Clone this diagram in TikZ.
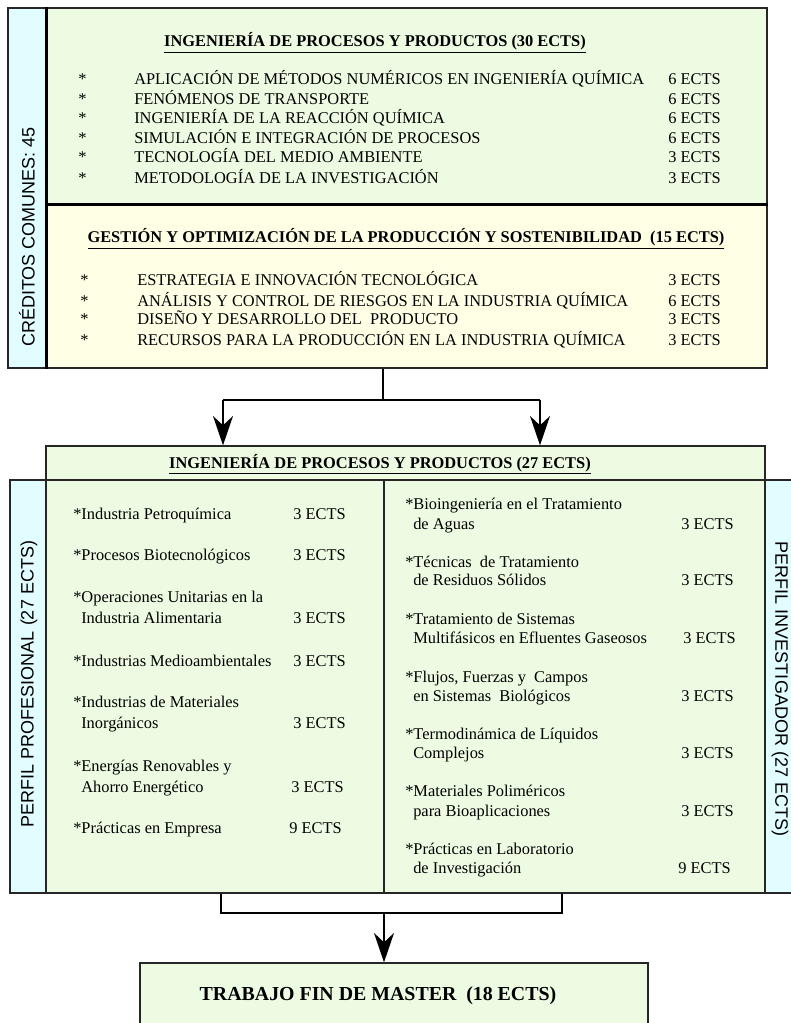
\documentclass[tikz,border=0pt]{standalone}
\usepackage{fontspec}
\setmainfont{Liberation Serif}
\setsansfont{Liberation Sans}
\usepackage{tikz}
\usetikzlibrary{arrows.meta,fit,positioning}

\definecolor{verde}{RGB}{236,251,226}
\definecolor{crema}{RGB}{255,255,230}
\definecolor{celeste}{RGB}{226,253,255}

\tikzset{
  caja/.style={draw=black!85, line width=1pt, inner sep=0pt},
  item/.style={anchor=base west, inner sep=0pt, font=\fontsize{12.3}{14}\selectfont},
  titulo/.style={anchor=base, inner sep=0pt, font=\fontsize{12.3}{14}\selectfont\bfseries},
  lateral/.style={inner sep=0pt, font=\sffamily\fontsize{13.5}{16}\selectfont}
}

\begin{document}
\begin{tikzpicture}[x=0.75pt,y=-0.75pt,>={Stealth[length=22pt,width=15pt,inset=7pt]}]

  \useasboundingbox (0,0) rectangle (791,1023);

  % bloque comun
  \node[caja, fill=celeste, fit={(8,8) (47,368)}] (comunes) {};
  \node[caja, fill=verde, fit={(47,8) (767,204)}] (ipp30) {};
  \node[caja, fill=crema, fit={(47,204) (767,368)}] (gop) {};
  \draw[line width=2.2pt] (ipp30.north west) -- (gop.south west);
  \draw[line width=2pt] (ipp30.south west) -- (ipp30.south east);

  \node[lateral, rotate=90] (lcom) at (27,237) {CRÉDITOS COMUNES: 45};

  \node[titulo] (tipp30) at (375,47) {\underline{INGENIERÍA DE PROCESOS Y PRODUCTOS (30 ECTS)}};
  \node[item] (a1) at (78,85) {*};
  \node[item] (t1) at (134,85) {APLICACIÓN DE MÉTODOS NUMÉRICOS EN INGENIERÍA QUÍMICA};
  \node[item] (e1) at (668,85) {6 ECTS};
  \node[item] (a2) at (78,105) {*};
  \node[item] (t2) at (134,105) {FENÓMENOS DE TRANSPORTE};
  \node[item] (e2) at (668,105) {6 ECTS};
  \node[item] (a3) at (78,124) {*};
  \node[item] (t3) at (134,124) {INGENIERÍA DE LA REACCIÓN QUÍMICA};
  \node[item] (e3) at (668,124) {6 ECTS};
  \node[item] (a4) at (78,144) {*};
  \node[item] (t4) at (134,144) {SIMULACIÓN E INTEGRACIÓN DE PROCESOS};
  \node[item] (e4) at (668,144) {6 ECTS};
  \node[item] (a5) at (78,163) {*};
  \node[item] (t5) at (134,163) {TECNOLOGÍA DEL MEDIO AMBIENTE};
  \node[item] (e5) at (668,163) {3 ECTS};
  \node[item] (a6) at (78,184) {*};
  \node[item] (t6) at (134,184) {METODOLOGÍA DE LA INVESTIGACIÓN};
  \node[item] (e6) at (668,184) {3 ECTS};

  \node[titulo] (tgop) at (406,243) {\underline{GESTIÓN Y OPTIMIZACIÓN DE LA PRODUCCIÓN Y SOSTENIBILIDAD\ \ (15 ECTS)}};
  \node[item] (b1) at (80,286) {*};
  \node[item] (g1) at (137,286) {ESTRATEGIA E INNOVACIÓN TECNOLÓGICA};
  \node[item] (f1) at (668,286) {3 ECTS};
  \node[item] (b2) at (80,306) {*};
  \node[item] (g2) at (137,306) {ANÁLISIS Y CONTROL DE RIESGOS EN LA INDUSTRIA QUÍMICA};
  \node[item] (f2) at (668,306) {6 ECTS};
  \node[item] (b3) at (80,325) {*};
  \node[item] (g3) at (137,325) {DISEÑO Y DESARROLLO DEL\ \ PRODUCTO};
  \node[item] (f3) at (668,325) {3 ECTS};
  \node[item] (b4) at (80,345) {*};
  \node[item] (g4) at (137,345) {RECURSOS PARA LA PRODUCCIÓN EN LA INDUSTRIA QUÍMICA};
  \node[item] (f4) at (668,345) {3 ECTS};

  % perfiles
  \node[caja, fill=verde, fit={(46,446) (765,480)}] (hdr) {};
  \node[caja, fill=celeste, fit={(10,480) (46,893)}] (pprof) {};
  \node[caja, fill=verde, fit={(46,480) (384,893)}] (izq) {};
  \node[caja, fill=verde, fit={(384,480) (765,893)}] (der) {};
  \node[caja, fill=celeste, fit={(765,480) (795,893)}] (pinv) {};

  \node[titulo] (thdr) at (380,468) {\underline{INGENIERÍA DE PROCESOS Y PRODUCTOS (27 ECTS)}};
  \node[lateral, rotate=90] (lprof) at (29,684) {PERFIL PROFESIONAL (27 ECTS)};
  \node[lateral, rotate=-90] (linv) at (780,689) {PERFIL INVESTIGADOR (27 ECTS)};

  \node[item] (p1) at (73,519) {*Industria Petroquímica};
  \node[item] (q1) at (293,519) {3 ECTS};
  \node[item] (p2) at (73,560) {*Procesos Biotecnológicos};
  \node[item] (q2) at (293,560) {3 ECTS};
  \node[item] (p3) at (73,602) {*Operaciones Unitarias en la};
  \node[item] (p3b) at (81,623) {Industria Alimentaria};
  \node[item] (q3) at (293,623) {3 ECTS};
  \node[item] (p4) at (73,666) {*Industrias Medioambientales};
  \node[item] (q4) at (293,666) {3 ECTS};
  \node[item] (p5) at (73,707) {*Industrias de Materiales};
  \node[item] (p5b) at (81,728) {Inorgánicos};
  \node[item] (q5) at (293,728) {3 ECTS};
  \node[item] (p6) at (73,771) {*Energías Renovables y};
  \node[item] (p6b) at (81,792) {Ahorro Energético};
  \node[item] (q6) at (291,792) {3 ECTS};
  \node[item] (p7) at (73,833) {*Prácticas en Empresa};
  \node[item] (q7) at (289,833) {9 ECTS};

  \node[item] (r1) at (405,509) {*Bioingeniería en el Tratamiento};
  \node[item] (r1b) at (413,529) {de Aguas};
  \node[item] (s1) at (681,529) {3 ECTS};
  \node[item] (r2) at (405,567) {*Técnicas\ \ de Tratamiento};
  \node[item] (r2b) at (413,585) {de Residuos Sólidos};
  \node[item] (s2) at (681,585) {3 ECTS};
  \node[item] (r3) at (405,624) {*Tratamiento de Sistemas};
  \node[item] (r3b) at (413,643) {Multifásicos en Efluentes Gaseosos};
  \node[item] (s3) at (683,643) {3 ECTS};
  \node[item] (r4) at (405,682) {*Flujos, Fuerzas y\ \ Campos};
  \node[item] (r4b) at (413,701) {en Sistemas\ \ Biológicos};
  \node[item] (s4) at (681,701) {3 ECTS};
  \node[item] (r5) at (405,739) {*Termodinámica de Líquidos};
  \node[item] (r5b) at (413,758) {Complejos};
  \node[item] (s5) at (681,758) {3 ECTS};
  \node[item] (r6) at (405,796) {*Materiales Poliméricos};
  \node[item] (r6b) at (413,816) {para Bioaplicaciones};
  \node[item] (s6) at (681,816) {3 ECTS};
  \node[item] (r7) at (405,854) {*Prácticas en Laboratorio};
  \node[item] (r7b) at (413,873) {de Investigación};
  \node[item] (s7) at (678,873) {9 ECTS};

  % trabajo fin de master
  \node[caja, fill=verde, fit={(140,963) (648,1035)}] (tfm) {};
  \node[titulo, font=\fontsize{14.9}{17}\selectfont\bfseries] (ttfm) at (378,1000) {TRABAJO FIN DE MASTER\ \ (18 ECTS)};

  % conectores
  \coordinate (rep) at (383,400);
  \coordinate (repi) at (223,400);
  \coordinate (repd) at (540,400);
  \draw[line width=1pt] (gop.south -| rep) -- (rep);
  \draw[line width=1pt] (repi) -- (repd);
  \draw[->, line width=1pt] (repi) -- (repi |- hdr.north);
  \draw[->, line width=1pt] (repd) -- (repd |- hdr.north);

  \coordinate (uni) at (384,913);
  \coordinate (unii) at (221,913);
  \coordinate (unid) at (562,913);
  \draw[line width=1pt] (unii |- izq.south) -- (unii) -- (unid) -- (unid |- der.south);
  \draw[->, line width=1pt] (uni) -- (uni |- tfm.north);

\end{tikzpicture}
\end{document}
